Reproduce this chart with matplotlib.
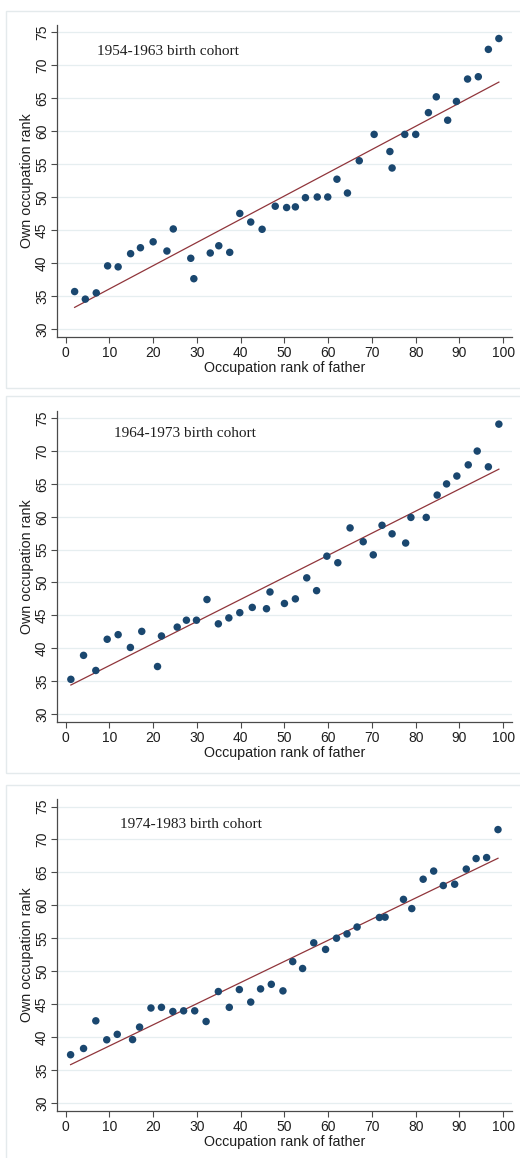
import numpy as np
import matplotlib
matplotlib.use("Agg")
import matplotlib.pyplot as plt
from matplotlib.patches import Rectangle

# ---------------- data ----------------
titles = ["1954-1963 birth cohort", "1964-1973 birth cohort", "1974-1983 birth cohort"]

x1 = [2.06, 4.5, 7.0, 9.6, 12.0, 14.85, 17.1, 20.0, 23.15, 24.6, 28.6, 29.3, 33.05, 35.0,
      37.5, 39.8, 42.3, 44.9, 47.9, 50.5, 52.5, 54.8, 57.5, 59.9, 62.0, 64.4, 67.1, 70.5,
      74.1, 74.6, 77.5, 80.0, 82.9, 84.7, 87.3, 89.3, 91.85, 94.3, 96.6, 99.0]
y1 = [35.65, 34.5, 35.45, 39.55, 39.4, 41.4, 42.3, 43.2, 41.8, 45.15, 40.7, 37.6, 41.5, 42.6,
      41.6, 47.5, 46.2, 45.1, 48.6, 48.4, 48.5, 49.9, 50.0, 50.0, 52.7, 50.6, 55.5, 59.5,
      56.9, 54.4, 59.5, 59.5, 62.8, 65.2, 61.65, 64.5, 67.9, 68.25, 72.4, 74.05]

x2 = [1.2, 4.1, 6.9, 9.5, 12.0, 14.8, 17.4, 21.0, 21.9, 25.5, 27.6, 29.9, 32.3, 34.9,
      37.3, 39.8, 42.65, 45.9, 46.7, 50.0, 52.5, 55.1, 57.35, 59.7, 62.2, 65.0, 68.0, 70.3,
      72.3, 74.6, 77.7, 78.9, 82.4, 84.9, 87.05, 89.4, 92.0, 94.05, 96.6, 99.0]
y2 = [35.25, 38.9, 36.6, 41.35, 42.05, 40.1, 42.55, 37.2, 41.85, 43.2, 44.25, 44.25, 47.4, 43.7,
      44.6, 45.4, 46.2, 46.0, 48.55, 46.8, 47.5, 50.7, 48.75, 54.0, 53.0, 58.3, 56.2, 54.2,
      58.7, 57.4, 56.0, 59.9, 59.9, 63.3, 65.0, 66.2, 67.9, 70.0, 67.6, 74.1]

x3 = [1.14, 4.1, 6.9, 9.4, 11.8, 15.3, 16.9, 19.5, 21.9, 24.5, 26.96, 29.5, 32.1, 34.9,
      37.4, 39.7, 42.3, 44.55, 47.0, 49.66, 51.9, 54.15, 56.7, 59.4, 61.9, 64.3, 66.6, 71.7,
      73.0, 77.2, 79.1, 81.7, 84.1, 86.3, 88.9, 91.55, 93.8, 96.2, 98.8]
y3 = [37.3, 38.25, 42.45, 39.57, 40.4, 39.6, 41.5, 44.4, 44.5, 43.87, 43.97, 43.97, 42.35, 46.9,
      44.5, 47.2, 45.3, 47.3, 48.0, 47.0, 51.45, 50.4, 54.3, 53.3, 55.0, 55.65, 56.7, 58.15,
      58.2, 60.9, 59.5, 63.96, 65.2, 63.0, 63.2, 65.5, 67.1, 67.25, 71.5]

xs = [x1, x2, x3]
ys = [y1, y2, y3]

x_ticks = [0, 10, 20, 30, 40, 50, 60, 70, 80, 90, 100]
y_ticks = [30, 35, 40, 45, 50, 55, 60, 65, 70, 75]
x_label = "Occupation rank of father"
y_label = "Own occupation rank"
title_pos = [(7.1, 72.1), (11.1, 72.6), (12.5, 72.2)]

# ---------------- style ----------------
W, H = 520, 1158
fig = plt.figure(figsize=(W / 100, H / 100), dpi=100)
fig.patch.set_facecolor("white")

sans = ["Liberation Sans", "DejaVu Sans"]
serif = ["Liberation Serif", "DejaVu Serif"]
dot_c = "#1a476f"
line_c = "#90353b"
grid_c = "#e6eef0"
frame_c = "#e4eaec"
axis_c = "#4a4a4a"
text_c = "#1e1e1e"

# axes boxes in pixel (left, top, right, bottom)
axes_px = [(57.3, 25.0, 512.0, 336.7),
           (57.3, 411.0, 512.0, 721.7),
           (57.3, 799.3, 512.0, 1110.7)]
frames_px = [(6.0, 11.0, 540.0, 388.0),
             (6.0, 396.0, 540.0, 772.7),
             (6.0, 785.3, 540.0, 1180.0)]

for i in range(3):
    fl, ft, fr, fb = frames_px[i]
    fig.patches.append(Rectangle((fl / W, 1 - fb / H), (fr - fl) / W, (fb - ft) / H,
                                 transform=fig.transFigure, fill=False,
                                 edgecolor=frame_c, linewidth=1.0, zorder=0))
    l, t, r, b = axes_px[i]
    ax = fig.add_axes([l / W, 1 - b / H, (r - l) / W, (b - t) / H])
    ax.set_facecolor("white")
    x = np.array(xs[i]); y = np.array(ys[i])
    ax.scatter(x, y, s=29, color=dot_c, edgecolors="none", zorder=3)
    k, c = np.polyfit(x, y, 1)
    xl = np.array([x.min(), x.max()])
    ax.plot(xl, k * xl + c, color=line_c, linewidth=0.9, zorder=2)

    ax.set_xlim(-1.9, 102)
    ax.set_ylim(28.8, 76.1)
    ax.set_xticks(x_ticks)
    ax.set_yticks(y_ticks)
    ax.set_xticklabels([str(v) for v in x_ticks], fontfamily=sans, fontsize=10, color=text_c)
    ax.set_yticklabels([str(v) for v in y_ticks], fontfamily=sans, fontsize=10, color=text_c,
                       rotation=90, va="center")
    ax.tick_params(axis="both", length=4, width=0.8, color=axis_c)
    ax.tick_params(axis="x", pad=2.5)
    ax.tick_params(axis="y", pad=2.0)
    ax.grid(axis="y", color=grid_c, linewidth=0.9, zorder=0)
    ax.set_axisbelow(True)
    for s in ["top", "right"]:
        ax.spines[s].set_visible(False)
    for s in ["left", "bottom"]:
        ax.spines[s].set_color(axis_c)
        ax.spines[s].set_linewidth(0.9)
    ax.set_xlabel(x_label, fontfamily=sans, fontsize=10.3, color=text_c, labelpad=1.0)
    ax.set_ylabel(y_label, fontfamily=sans, fontsize=10.3, color=text_c, labelpad=0.5)
    tx, ty = title_pos[i]
    ax.text(tx, ty, titles[i], fontfamily=serif, fontsize=11, color=text_c,
            ha="left", va="center")

fig.savefig("out.png", dpi=100, facecolor="white")
